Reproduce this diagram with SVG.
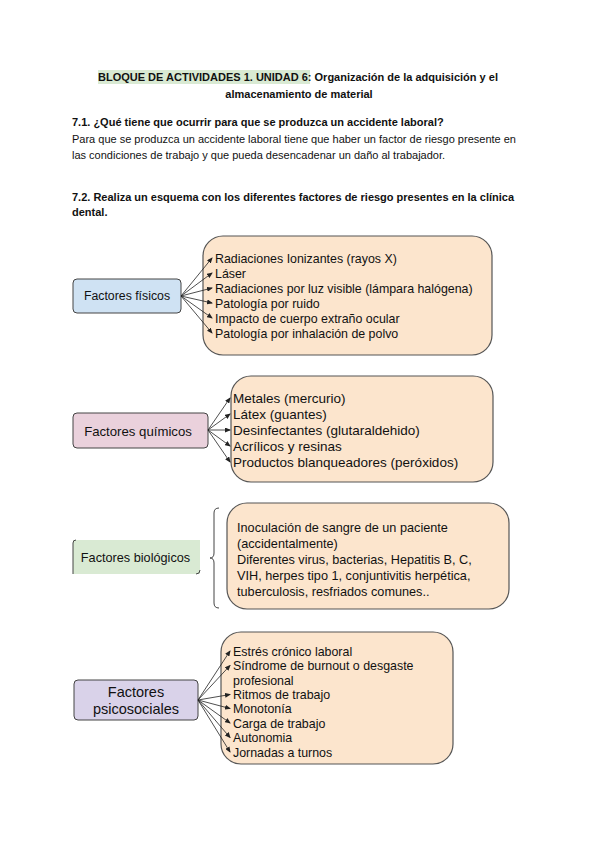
<svg xmlns="http://www.w3.org/2000/svg" width="600" height="848" viewBox="0 0 600 848">
<style>
  text { font-family: "Liberation Sans", Arial, sans-serif; fill: #111; }
  .b { font-weight: bold; font-size: 11px; }
  .p { font-size: 11px; }
  .orange { fill: #fce5cd; stroke: #555; stroke-width: 1.2; }
  .lbl { stroke: #444; stroke-width: 1; }
  .it { fill: #222; }
  .conn line { stroke: #222; stroke-width: 0.8; marker-end: url(#ah); }
</style>
<defs>
  <marker id="ah" markerWidth="6" markerHeight="5" refX="5" refY="2.5" orient="auto" markerUnits="userSpaceOnUse">
    <path d="M0,0 L6,2.5 L0,5 Z" fill="#222"/>
  </marker>
</defs>
<rect width="600" height="848" fill="#fff"/>

<g id="header">
  <rect x="98" y="70" width="212" height="14" fill="#d9ead3"/>
  <text class="b" x="98" y="81">BLOQUE DE ACTIVIDADES 1. UNIDAD 6: Organización de la adquisición y el</text>
  <text class="b" x="299" y="98" text-anchor="middle">almacenamiento de material</text>
  <text class="b" x="72" y="126">7.1. ¿Qué tiene que ocurrir para que se produzca un accidente laboral?</text>
  <text class="p" x="72" y="143">Para que se produzca un accidente laboral tiene que haber un factor de riesgo presente en</text>
  <text class="p" x="72" y="159">las condiciones de trabajo y que pueda desencadenar un daño al trabajador.</text>
  <text class="b" x="72" y="201">7.2. Realiza un esquema con los diferentes factores de riesgo presentes en la clínica</text>
  <text class="b" x="72" y="216">dental.</text>
</g>

<g id="fisicos">
  <rect class="lbl" x="73" y="279" width="108" height="34" rx="4" fill="#cfe2f3"/>
  <text x="127" y="300" font-size="12.3" text-anchor="middle">Factores físicos</text>
</g>
<g id="fisicos-list">
  <rect class="orange" x="203" y="236" width="289" height="119" rx="20"/>
  <g font-size="12.4" class="it">
    <text x="215" y="262.5">Radiaciones Ionizantes (rayos X)</text>
    <text x="215" y="277.5">Láser</text>
    <text x="215" y="292.5">Radiaciones por luz visible (lámpara halógena)</text>
    <text x="215" y="307.5">Patología por ruido</text>
    <text x="215" y="322.5">Impacto de cuerpo extraño ocular</text>
    <text x="215" y="337.5">Patología por inhalación de polvo</text>
  </g>
</g>

<g id="quimicos">
  <rect class="lbl" x="73" y="413" width="135" height="35" rx="4" fill="#ead1dc"/>
  <text x="138" y="435.5" font-size="13.2" text-anchor="middle">Factores químicos</text>
</g>
<g id="quimicos-list">
  <rect class="orange" x="231" y="376" width="262" height="106" rx="20"/>
  <g font-size="13.5" class="it">
    <text x="233" y="403">Metales (mercurio)</text>
    <text x="233" y="419">Látex (guantes)</text>
    <text x="233" y="435">Desinfectantes (glutaraldehido)</text>
    <text x="233" y="451">Acrílicos y resinas</text>
    <text x="233" y="467">Productos blanqueadores (peróxidos)</text>
  </g>
</g>

<g id="biologicos">
  <rect x="73" y="540" width="127" height="34" fill="#d9ead3"/>
  <path d="M76,540 Q73,540 73,543 L73,574 M200,570 Q200,574 196,574" fill="none" stroke="#444" stroke-width="1"/>
  <text x="135.5" y="561.5" font-size="12.7" text-anchor="middle">Factores biológicos</text>
</g>
<g id="biologicos-list">
  <rect class="orange" x="227" y="503" width="282" height="106" rx="20"/>
  <g font-size="12.7" class="it">
    <text x="237" y="531.5">Inoculación de sangre de un paciente</text>
    <text x="237" y="547.5">(accidentalmente)</text>
    <text x="237" y="563.5">Diferentes virus, bacterias, Hepatitis B, C,</text>
    <text x="237" y="579.5">VIH, herpes tipo 1, conjuntivitis herpética,</text>
    <text x="237" y="595.5">tuberculosis, resfriados comunes..</text>
  </g>
</g>

<g id="psicosociales">
  <rect class="lbl" x="74" y="680" width="124" height="40" rx="4" fill="#d9d2e9"/>
  <text x="136" y="697" font-size="14.5" text-anchor="middle">Factores</text>
  <text x="136" y="714" font-size="14.5" text-anchor="middle">psicosociales</text>
</g>
<g id="psicosociales-list">
  <rect class="orange" x="221" y="632" width="232" height="132" rx="20"/>
  <g font-size="12.4" class="it">
    <text x="233" y="655.5">Estrés crónico laboral</text>
    <text x="233" y="670">Síndrome de burnout o desgaste</text>
    <text x="233" y="684.5">profesional</text>
    <text x="233" y="699">Ritmos de trabajo</text>
    <text x="233" y="713">Monotonía</text>
    <text x="233" y="727.5">Carga de trabajo</text>
    <text x="233" y="742">Autonomia</text>
    <text x="233" y="756.5">Jornadas a turnos</text>
  </g>
</g>

<g id="connectors" class="conn">
  <line x1="181" y1="296" x2="212" y2="258"/>
  <line x1="181" y1="296" x2="212" y2="273"/>
  <line x1="181" y1="296" x2="212" y2="288"/>
  <line x1="181" y1="296" x2="212" y2="303"/>
  <line x1="181" y1="296" x2="212" y2="318"/>
  <line x1="181" y1="296" x2="212" y2="333"/>

  <line x1="208" y1="430" x2="230" y2="398"/>
  <line x1="208" y1="430" x2="230" y2="414"/>
  <line x1="208" y1="430" x2="230" y2="430"/>
  <line x1="208" y1="430" x2="230" y2="446"/>
  <line x1="208" y1="430" x2="230" y2="462"/>

  <line x1="198" y1="700" x2="230" y2="651"/>
  <line x1="198" y1="700" x2="230" y2="665.5"/>
  <line x1="198" y1="700" x2="230" y2="694.5"/>
  <line x1="198" y1="700" x2="230" y2="708.5"/>
  <line x1="198" y1="700" x2="230" y2="723"/>
  <line x1="198" y1="700" x2="230" y2="737.5"/>
  <line x1="198" y1="700" x2="230" y2="752"/>

  <path d="M219,508 Q214,508 214,513 L214,553 Q214,558 210,558 Q214,558 214,563 L214,603 Q214,608 219,608" fill="none" stroke="#444" stroke-width="1" style="marker-end:none"/>
</g>
</svg>
